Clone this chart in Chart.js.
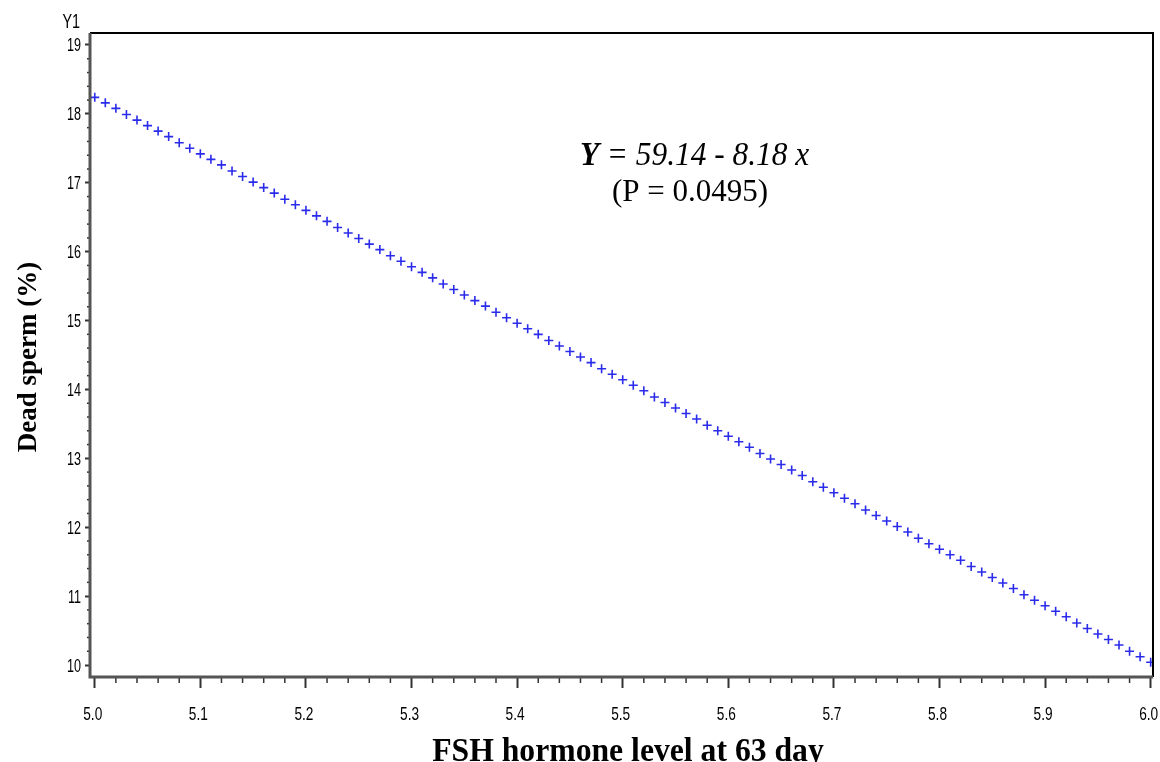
<!DOCTYPE html>
<html>
<head>
<meta charset="utf-8">
<script src="https://cdn.jsdelivr.net/npm/chart.js@4"></script>
<style>
  html, body { margin: 0; padding: 0; background: #fff; }
  #wrap { width: 1160px; height: 762px; }
</style>
</head>
<body>
<div id="wrap"><canvas id="myChart" width="1160" height="762"></canvas></div>
<script>
// FSH hormone level (x) and predicted dead sperm % (y)
const xValues = [
  5.00, 5.01, 5.02, 5.03, 5.04, 5.05, 5.06, 5.07, 5.08, 5.09,
  5.10, 5.11, 5.12, 5.13, 5.14, 5.15, 5.16, 5.17, 5.18, 5.19,
  5.20, 5.21, 5.22, 5.23, 5.24, 5.25, 5.26, 5.27, 5.28, 5.29,
  5.30, 5.31, 5.32, 5.33, 5.34, 5.35, 5.36, 5.37, 5.38, 5.39,
  5.40, 5.41, 5.42, 5.43, 5.44, 5.45, 5.46, 5.47, 5.48, 5.49,
  5.50, 5.51, 5.52, 5.53, 5.54, 5.55, 5.56, 5.57, 5.58, 5.59,
  5.60, 5.61, 5.62, 5.63, 5.64, 5.65, 5.66, 5.67, 5.68, 5.69,
  5.70, 5.71, 5.72, 5.73, 5.74, 5.75, 5.76, 5.77, 5.78, 5.79,
  5.80, 5.81, 5.82, 5.83, 5.84, 5.85, 5.86, 5.87, 5.88, 5.89,
  5.90, 5.91, 5.92, 5.93, 5.94, 5.95, 5.96, 5.97, 5.98, 5.99,
  6.00
]
const deadSperm = [
  18.24, 18.16, 18.08, 17.99, 17.91, 17.83, 17.75, 17.67, 17.58, 17.50,
  17.42, 17.34, 17.26, 17.17, 17.09, 17.01, 16.93, 16.85, 16.76, 16.68,
  16.60, 16.52, 16.44, 16.35, 16.27, 16.19, 16.11, 16.03, 15.94, 15.86,
  15.78, 15.70, 15.62, 15.53, 15.45, 15.37, 15.29, 15.21, 15.12, 15.04,
  14.96, 14.88, 14.80, 14.71, 14.63, 14.55, 14.47, 14.39, 14.30, 14.22,
  14.14, 14.06, 13.98, 13.89, 13.81, 13.73, 13.65, 13.57, 13.48, 13.40,
  13.32, 13.24, 13.16, 13.07, 12.99, 12.91, 12.83, 12.75, 12.66, 12.58,
  12.50, 12.42, 12.34, 12.25, 12.17, 12.09, 12.01, 11.93, 11.84, 11.76,
  11.68, 11.60, 11.52, 11.43, 11.35, 11.27, 11.19, 11.11, 11.02, 10.94,
  10.86, 10.78, 10.70, 10.61, 10.53, 10.45, 10.37, 10.29, 10.20, 10.12,
  10.04
]
const xTicks = [5.0, 5.1, 5.2, 5.3, 5.4, 5.5, 5.6, 5.7, 5.8, 5.9, 6.0]
const yTicks = [10, 11, 12, 13, 14, 15, 16, 17, 18, 19]

const sans = '"Liberation Sans", Arial, sans-serif'
const serif = '"Liberation Serif", "Times New Roman", serif'

// text squeezed horizontally, like the narrow fonts of the original
const narrowText = (ctx, text, x, y, font, squeeze, align) => {
  ctx.font = font
  const w = ctx.measureText(text).width * squeeze
  let left = x
  if (align === 'center') left = x - w / 2
  if (align === 'right') left = x - w
  ctx.save()
  ctx.translate(left, y)
  ctx.scale(squeeze, 1)
  ctx.textAlign = 'left'
  ctx.fillText(text, 0, 0)
  ctx.restore()
}

// minor ticks, labels, border, titles and the equation
const decorations = {
  id: 'decorations',
  afterDraw(chart) {
    const ctx = chart.ctx
    const a = chart.chartArea
    const xs = chart.scales.x
    const ys = chart.scales.y
    ctx.save()

    // minor ticks
    ctx.strokeStyle = '#333'
    ctx.lineWidth = 1.5
    for (let i = 0; i < xTicks.length - 1; i++) {
      for (let k = 1; k < 5; k++) {
        const px = xs.getPixelForValue(xTicks[i] + k * 0.02)
        ctx.beginPath(); ctx.moveTo(px, a.bottom); ctx.lineTo(px, a.bottom + 6); ctx.stroke()
      }
    }
    for (let i = 0; i < yTicks.length - 1; i++) {
      for (let k = 1; k < 5; k++) {
        const py = ys.getPixelForValue(yTicks[i] + k * 0.2)
        ctx.beginPath(); ctx.moveTo(a.left, py); ctx.lineTo(a.left - 3, py); ctx.stroke()
      }
    }

    // frame
    ctx.strokeStyle = '#000'
    ctx.lineWidth = 2
    ctx.beginPath()
    ctx.moveTo(a.left, a.top); ctx.lineTo(a.right, a.top); ctx.lineTo(a.right, a.bottom)
    ctx.stroke()
    ctx.strokeStyle = '#555'
    ctx.lineWidth = 3
    ctx.beginPath()
    ctx.moveTo(a.left, a.top); ctx.lineTo(a.left, a.bottom); ctx.lineTo(a.right, a.bottom)
    ctx.stroke()

    // tick labels
    ctx.fillStyle = '#000'
    ctx.textBaseline = 'alphabetic'
    xTicks.forEach(v => {
      narrowText(ctx, v.toFixed(1), xs.getPixelForValue(v) - 2, 720, '19px ' + sans, 0.72, 'center')
    })
    yTicks.forEach(v => {
      narrowText(ctx, String(v), 81, ys.getPixelForValue(v) + 6.5, '17.5px ' + sans, 0.72, 'right')
    })
    narrowText(ctx, 'Y1', 80, 28, '20px ' + sans, 0.72, 'right')

    // axis titles
    narrowText(ctx, 'FSH hormone level at 63 day', 628, 761, 'bold 33px ' + serif, 0.96, 'center')
    ctx.save()
    ctx.translate(36, 357)
    ctx.rotate(-Math.PI / 2)
    narrowText(ctx, 'Dead sperm (%)', 0, 0, 'bold 27px ' + serif, 1.0, 'center')
    ctx.restore()

    // equation
    const eqRest = ' = 59.14 - 8.18 x'
    const sq = 0.95
    ctx.font = 'bold italic 33px ' + serif
    const wY = ctx.measureText('Y').width * sq
    ctx.font = 'italic 33px ' + serif
    const wR = ctx.measureText(eqRest).width * sq
    const x0 = 694.5 - (wY + wR) / 2
    narrowText(ctx, 'Y', x0, 165, 'bold italic 33px ' + serif, sq, 'left')
    narrowText(ctx, eqRest, x0 + wY, 165, 'italic 33px ' + serif, sq, 'left')
    narrowText(ctx, '(P = 0.0495)', 690, 201, '31px ' + serif, 1.0, 'center')
    ctx.restore()
  }
}

const config = {
  type: 'scatter',
  data: {
    datasets: [{
      data: xValues.map((x, i) => ({ x: x, y: deadSperm[i] })),
      pointStyle: 'cross',
      pointRadius: 4.5,
      pointBorderWidth: 1.6,
      borderColor: '#2b2bea',
      backgroundColor: '#2b2bea'
    }]
  },
  options: {
    responsive: false,
    animation: false,
    layout: { padding: { top: 33, right: 7, left: 0, bottom: 0 } },
    plugins: { legend: { display: false }, tooltip: { enabled: false } },
    scales: {
      x: {
        type: 'linear',
        min: 4.9955,
        max: 6.0022,
        afterBuildTicks: scale => { scale.ticks = xTicks.map(v => ({ value: v })) },
        afterFit: scale => { scale.height = 85; scale.paddingLeft = 0; scale.paddingRight = 0 },
        ticks: { display: false },
        grid: { drawOnChartArea: false, tickLength: 11, tickWidth: 2, tickColor: '#333' },
        border: { display: false }
      },
      y: {
        type: 'linear',
        min: 9.826,
        max: 19.174,
        afterBuildTicks: scale => { scale.ticks = yTicks.map(v => ({ value: v })) },
        afterFit: scale => { scale.width = 90; scale.paddingTop = 0; scale.paddingBottom = 0 },
        ticks: { display: false },
        grid: { drawOnChartArea: false, tickLength: 5, tickWidth: 2, tickColor: '#333' },
        border: { display: false }
      }
    }
  },
  plugins: [decorations]
}

const myChart = new Chart(document.getElementById('myChart'), config)
</script>
</body>
</html>
